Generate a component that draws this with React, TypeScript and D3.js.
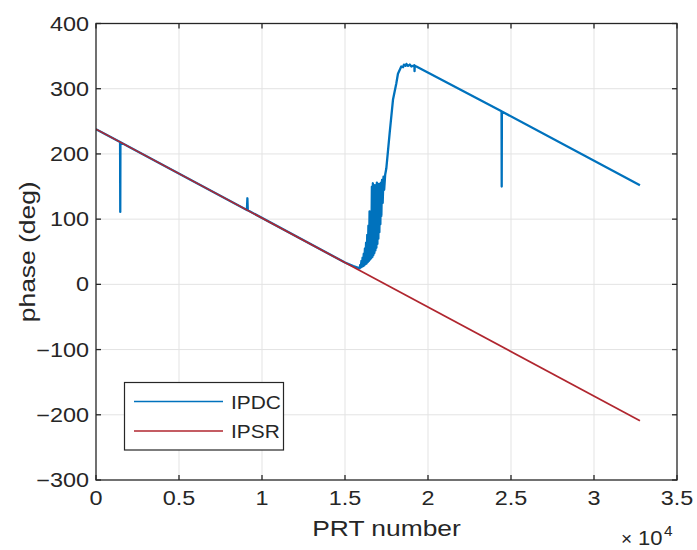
import React from "react";
import * as d3 from "d3";

const xTickValues = [0, 5000, 10000, 15000, 20000, 25000, 30000, 35000];
const xTickLabels = ["0", "0.5", "1", "1.5", "2", "2.5", "3", "3.5"];
const yTickValues = [-300, -200, -100, 0, 100, 200, 300, 400];
const yTickLabels = ["\u2212300", "\u2212200", "\u2212100", "0", "100", "200", "300", "400"];

const seriesNames = ["IPDC", "IPSR"];

// IPSR: straight line
const ipsrX = [0, 32768];
const ipsrY = [238, -209];

// IPDC
const ipdcX = [
  0, 1450, 1462, 1472, 9090, 9120, 9145, 15000, 15500, 15885,
  15920, 15950, 15990, 16020, 16060, 16090, 16130, 16160, 16200, 16230,
  16270, 16300, 16340, 16370, 16410, 16440, 16480, 16510, 16550, 16580,
  16620, 16650, 16680, 16710, 16740, 16770, 16800, 16830, 16860, 16890,
  16920, 16950, 16980, 17010, 17040, 17070, 17100, 17130, 17160, 17190,
  17230, 17270, 17320, 17360, 17420, 17490, 17690, 17890, 18090, 18190,
  18390, 18500, 18550, 18650, 18700, 18800, 18900, 19000, 19180, 19190,
  19200, 19300, 24430, 24440, 24448, 24452, 32768,
];
const ipdcY = [
  238, 218.2, 111, 218, 114, 132, 113.5, 33.5, 28, 24.5,
  30, 26, 36, 27, 41, 28, 47, 29, 55, 31,
  64, 32, 76, 34, 90, 36, 112, 38, 100, 40,
  150, 42, 155, 45, 120, 48, 152, 52, 140, 56,
  156, 62, 148, 70, 154, 80, 150, 92, 156, 105,
  160, 125, 165, 145, 168, 178, 232, 283, 308, 323,
  334, 333, 337, 335, 338, 335, 337, 334, 336, 327,
  335, 334, 265.5, 150, 229, 265, 152,
];

const W = 697;
const H = 550;
const M = { left: 96, right: 677, top: 23.5, bottom: 480 };
const TEXT = "#262626";
const BLUE = "#0072BD";
const RED = "#B0262F";
const FONT = "'Liberation Sans', Arial, Helvetica, sans-serif";

function T({ x, y, anchor = "middle", rotate = 0, size = 19, sx = 1.2, children }: any) {
  return (
    <text
      transform={`translate(${x},${y}) rotate(${rotate}) scale(${sx},1)`}
      textAnchor={anchor}
      fontFamily={FONT}
      fontSize={size}
      fill={TEXT}
    >
      {children}
    </text>
  );
}

export default function App() {
  const x = d3.scaleLinear().domain([0, 35000]).range([M.left, M.right]);
  const y = d3.scaleLinear().domain([-300, 400]).range([M.bottom, M.top]);

  const line = d3
    .line<[number, number]>()
    .x((d) => x(d[0]))
    .y((d) => y(d[1]));

  const ipdc = ipdcX.map((v, i) => [v, ipdcY[i]] as [number, number]);
  const ipsr = ipsrX.map((v, i) => [v, ipsrY[i]] as [number, number]);
  const tl = 5;

  return (
    <svg width={W} height={H} style={{ position: "absolute", left: 0, top: 0, background: "#fff" }}>
      <rect x={0} y={0} width={W} height={H} fill="#fff" />
      {/* grid */}
      <g stroke="#e3e3e3" strokeWidth={1}>
        {xTickValues.slice(1, -1).map((v) => (
          <line key={"gx" + v} x1={x(v)} x2={x(v)} y1={M.top} y2={M.bottom} />
        ))}
        {yTickValues.slice(1, -1).map((v) => (
          <line key={"gy" + v} x1={M.left} x2={M.right} y1={y(v)} y2={y(v)} />
        ))}
      </g>
      {/* data */}
      <clipPath id="clip">
        <rect x={M.left} y={M.top} width={M.right - M.left} height={M.bottom - M.top} />
      </clipPath>
      <g clipPath="url(#clip)" fill="none" strokeLinejoin="round">
        <path d={line(ipdc) || ""} stroke={BLUE} strokeWidth={2.3} />
        <path d={line(ipsr) || ""} stroke={RED} strokeWidth={1.7} />
      </g>
      {/* box */}
      <rect
        x={M.left}
        y={M.top}
        width={M.right - M.left}
        height={M.bottom - M.top}
        fill="none"
        stroke={TEXT}
        strokeWidth={1.3}
      />
      {/* ticks */}
      <g stroke={TEXT} strokeWidth={1.3}>
        {xTickValues.map((v) => (
          <g key={"tx" + v}>
            <line x1={x(v)} x2={x(v)} y1={M.bottom} y2={M.bottom - tl} />
            <line x1={x(v)} x2={x(v)} y1={M.top} y2={M.top + tl} />
          </g>
        ))}
        {yTickValues.map((v) => (
          <g key={"ty" + v}>
            <line x1={M.left} x2={M.left + tl} y1={y(v)} y2={y(v)} />
            <line x1={M.right} x2={M.right - tl} y1={y(v)} y2={y(v)} />
          </g>
        ))}
      </g>
      {/* tick labels */}
      {xTickValues.map((v, i) => (
        <T key={"lx" + v} x={x(v)} y={M.bottom + 25} size={19.5}>
          {xTickLabels[i]}
        </T>
      ))}
      {yTickValues.map((v, i) => (
        <T key={"ly" + v} x={M.left - 7} y={y(v) + 7} anchor="end" size={19.5}>
          {yTickLabels[i]}
        </T>
      ))}
      {/* axis labels */}
      <T x={(M.left + M.right) / 2} y={536} size={22}>
        PRT number
      </T>
      <T x={35} y={(M.top + M.bottom) / 2} rotate={-90} size={22}>
        phase (deg)
      </T>
      <g>
        <T x={621} y={545} anchor="start" size={19} sx={1}>
          {"\u00D7"}
        </T>
        <T x={638} y={545} anchor="start" size={20} sx={1.1}>
          10
        </T>
        <T x={664} y={536} anchor="start" size={14} sx={1.1}>
          4
        </T>
      </g>
      {/* legend */}
      <rect x={124.5} y={382.5} width={159} height={67.5} fill="#fff" stroke={TEXT} strokeWidth={1.2} />
      <line x1={134} x2={223} y1={401.5} y2={401.5} stroke={BLUE} strokeWidth={1.3} />
      <line x1={134} x2={223} y1={431} y2={431} stroke={RED} strokeWidth={1.3} />
      <T x={231} y={408.5} anchor="start" size={19} sx={1.1}>
        {seriesNames[0]}
      </T>
      <T x={231} y={438} anchor="start" size={19} sx={1.1}>
        {seriesNames[1]}
      </T>
    </svg>
  );
}
